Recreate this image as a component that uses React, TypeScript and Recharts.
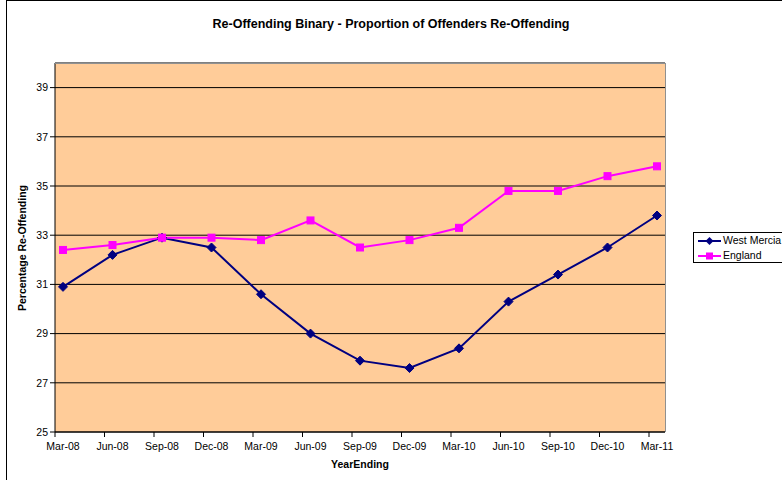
import React from 'react';
import { LineChart, Line, XAxis, YAxis, CartesianGrid } from 'recharts';

const categories = ['Mar-08', 'Jun-08', 'Sep-08', 'Dec-08', 'Mar-09', 'Jun-09', 'Sep-09', 'Dec-09', 'Mar-10', 'Jun-10', 'Sep-10', 'Dec-10', 'Mar-11'];
const westMercia = [30.9, 32.2, 32.9, 32.5, 30.6, 29.0, 27.9, 27.6, 28.4, 30.3, 31.4, 32.5, 33.8];
const england = [32.4, 32.6, 32.9, 32.9, 32.8, 33.6, 32.5, 32.8, 33.3, 34.8, 34.8, 35.4, 35.8];
const yTicks = [25, 27, 29, 31, 33, 35, 37, 39];

const data = categories.map((name, i) => ({ name, westMercia: westMercia[i], england: england[i] }));

const NAVY = '#000080';
const PINK = '#FF00FF';
const FONT = '"Liberation Sans", Arial, sans-serif';

const Diamond = ({ cx, cy }: any) => {
  if (cx == null || cy == null) return null;
  return <path d={`M${cx},${cy - 4.5}L${cx + 4.5},${cy}L${cx},${cy + 4.5}L${cx - 4.5},${cy}Z`} fill={NAVY} stroke={NAVY} />;
};

const Square = ({ cx, cy }: any) => {
  if (cx == null || cy == null) return null;
  return <rect x={cx - 3.5} y={cy - 3.5} width={7} height={7} fill={PINK} stroke={PINK} />;
};

// tick marks sit half a step left of each label, like the Excel original
const XTick = ({ x, y, payload }: any) => (
  <g>
    <line x1={x - 8} y1={y - 8} x2={x - 8} y2={y - 3} stroke="#000" />
    <text x={x} y={y + 10} textAnchor="middle" fontSize={10.5} fontFamily={FONT} fill="#000">
      {payload.value}
    </text>
  </g>
);

const App: React.FC = () => {
  return (
    <div style={{ position: 'fixed', left: 0, top: 0, width: 782, height: 480, background: '#fff', overflow: 'hidden', fontFamily: FONT }}>
      <div style={{ position: 'absolute', left: 6, top: 0, width: 800, height: 500, border: '1px solid #000' }} />
      <div style={{ position: 'absolute', left: 0, top: 17, width: 782, textAlign: 'center', fontSize: 12.5, fontWeight: 'bold' }}>
        Re-Offending Binary - Proportion of Offenders Re-Offending
      </div>
      <div style={{ position: 'absolute', left: 0, top: 0 }}>
        <LineChart width={782} height={480} data={data} margin={{ top: 63, right: 117, left: 0, bottom: 0 }}>
          <CartesianGrid vertical={false} stroke="#000" fill="#FFCC99" fillOpacity={1} />
          <XAxis
            dataKey="name"
            padding={{ left: 8, right: 8 }}
            axisLine={{ stroke: '#000' }}
            tickLine={false}
            tick={<XTick />}
            interval={0}
            height={48}
          />
          <YAxis
            width={55}
            domain={[25, 40]}
            ticks={yTicks}
            axisLine={{ stroke: '#000' }}
            tickLine={{ stroke: '#000' }}
            tickSize={5}
            tick={{ fontSize: 10.5, fill: '#000', fontFamily: FONT }}
          />
          <Line type="linear" dataKey="westMercia" stroke={NAVY} strokeWidth={2} dot={<Diamond />} isAnimationActive={false} />
          <Line type="linear" dataKey="england" stroke={PINK} strokeWidth={2} dot={<Square />} isAnimationActive={false} />
        </LineChart>
      </div>
      <div style={{ position: 'absolute', left: 55, top: 63, width: 611, height: 369, borderTop: '1px solid #909090', borderRight: '1px solid #909090', boxSizing: 'border-box', pointerEvents: 'none' }} />
      <div style={{ position: 'absolute', left: 55, top: 458, width: 610, textAlign: 'center', fontSize: 10.5, fontWeight: 'bold' }}>
        YearEnding
      </div>
      <div style={{ position: 'absolute', left: 22, top: 248, width: 0, height: 0 }}>
        <div style={{ position: 'absolute', transform: 'translate(-50%, -50%) rotate(-90deg)', whiteSpace: 'nowrap', fontSize: 10.5, fontWeight: 'bold' }}>
          Percentage Re-Offending
        </div>
      </div>
      <div style={{ position: 'absolute', left: 693, top: 232, width: 100, height: 31, border: '1px solid #000', boxSizing: 'border-box', fontSize: 10.5 }}>
        <svg style={{ position: 'absolute', left: 0, top: 0 }} width={30} height={30}>
          <line x1={4} y1={8} x2={27} y2={8} stroke={NAVY} strokeWidth={2} />
          <path d="M15.5,4L19.5,8L15.5,12L11.5,8Z" fill={NAVY} />
          <line x1={4} y1={23} x2={27} y2={23} stroke={PINK} strokeWidth={2} />
          <rect x={12} y={19.5} width={7} height={7} fill={PINK} />
        </svg>
        <div style={{ position: 'absolute', left: 29, top: 1, whiteSpace: 'nowrap' }}>West Mercia</div>
        <div style={{ position: 'absolute', left: 29, top: 16, whiteSpace: 'nowrap' }}>England</div>
      </div>
    </div>
  );
};

export default App;
